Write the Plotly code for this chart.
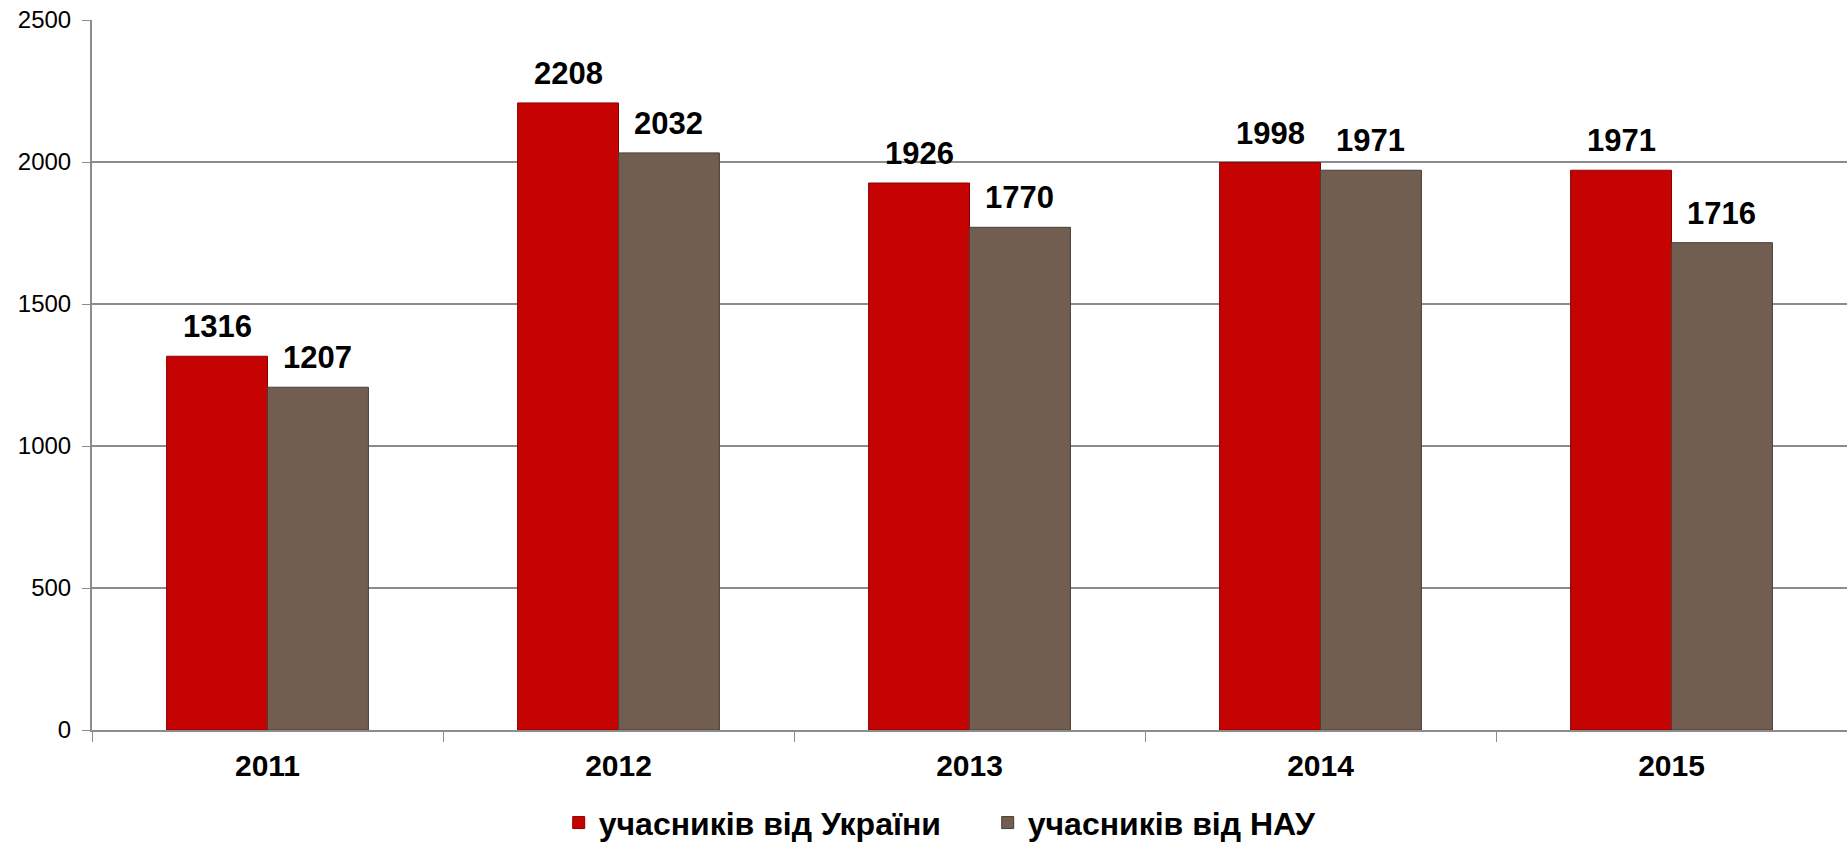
import plotly.graph_objects as go

years = ["2011", "2012", "2013", "2014", "2015"]
ukraine = [1316, 2208, 1926, 1998, 1971]
nau = [1207, 2032, 1770, 1971, 1716]
series_names = ["учасників від України", "учасників від НАУ"]
y_ticks = [0, 500, 1000, 1500, 2000, 2500]

FONT = "Arial, 'Liberation Sans', sans-serif"
BARGAP = 0.425
PLOT_W = 1847 - 92
bar_px = PLOT_W / len(years) * (1 - BARGAP) / 2

fig = go.Figure()
fig.add_trace(go.Bar(
    x=years, y=ukraine, name=series_names[0],
    marker=dict(color="#c60303", line=dict(color="#8e0000", width=1)),
))
fig.add_trace(go.Bar(
    x=years, y=nau, name=series_names[1],
    marker=dict(color="#725e51", line=dict(color="#4a3d34", width=1)),
))

# value labels above each bar, lifted a little off the bar top
for values, shift in ((ukraine, -bar_px / 2), (nau, bar_px / 2)):
    for idx, v in enumerate(values):
        fig.add_annotation(
            x=idx, y=v, xref="x", yref="y",
            text=f"<b>{v}</b>", showarrow=False,
            xshift=shift, yshift=10, yanchor="bottom",
            font=dict(family=FONT, size=31, color="#000000"),
        )

fig.update_layout(
    width=1847, height=843,
    margin=dict(l=92, r=0, t=20, b=113),
    paper_bgcolor="white", plot_bgcolor="white",
    barmode="group", bargap=BARGAP, bargroupgap=0,
    font=dict(family=FONT, color="#000000"),
    showlegend=True,
    legend=dict(
        orientation="h", xref="container", yref="container",
        x=0.3025, xanchor="left", y=0.024, yanchor="middle",
        font=dict(family=FONT, size=32, color="#000000", weight="bold"),
        itemwidth=30, traceorder="normal",
        entrywidth=384, entrywidthmode="pixels",
    ),
)
fig.update_xaxes(
    type="category", categoryorder="array", categoryarray=years,
    range=[-0.5, len(years) - 0.5],
    tickson="boundaries", ticks="outside", ticklen=10, tickcolor="#8c8c8c",
    showline=True, linecolor="#8c8c8c", linewidth=2,
    showgrid=False,
    tickfont=dict(family=FONT, size=30, color="#000000", weight="bold"),
    ticklabelstandoff=8, tickangle=0,
)
fig.update_yaxes(
    range=[0, 2500], tickvals=y_ticks,
    ticks="outside", ticklen=8, tickcolor="#8c8c8c",
    showline=True, linecolor="#8c8c8c", linewidth=2,
    showgrid=True, gridcolor="#8c8c8c", gridwidth=2,
    zeroline=False,
    tickfont=dict(family=FONT, size=24, color="#000000"),
    ticklabelstandoff=6,
)

fig.write_html("out.html")
